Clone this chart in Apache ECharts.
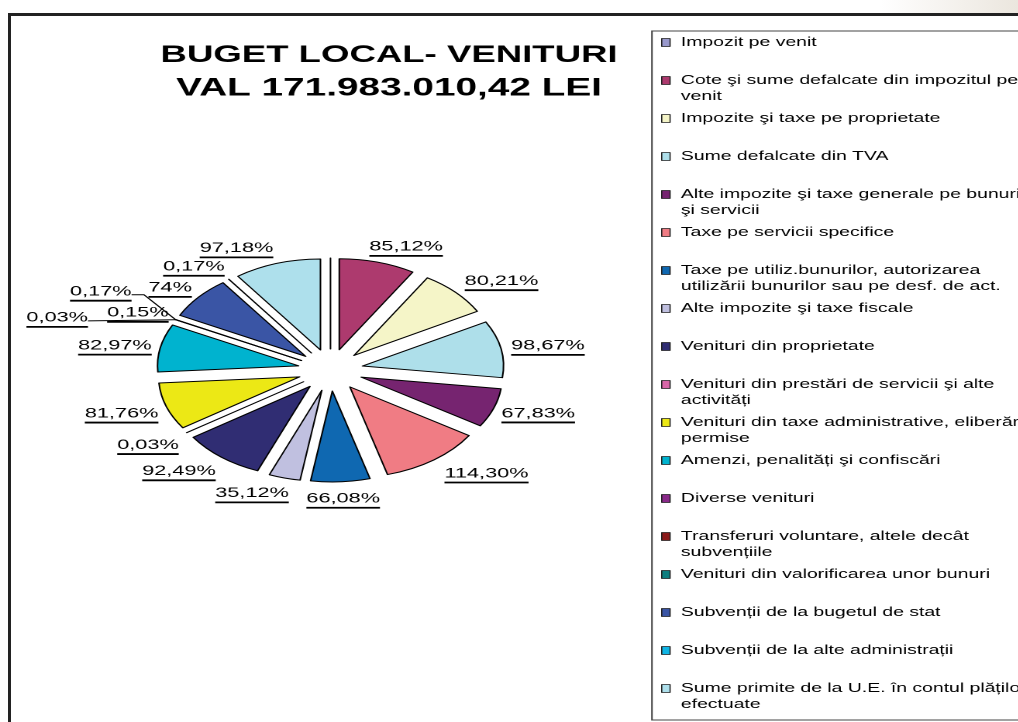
<!DOCTYPE html>
<html>
<head>
<meta charset="utf-8">
<script src="https://cdn.jsdelivr.net/npm/echarts@6/dist/echarts.min.js"></script>
<style>
    html, body { margin: 0; padding: 0; background: #fff; overflow: hidden; }
    #frame { position: absolute; left: 8px; top: 13px; width: 1020px; height: 720px;
             border-left: 3px solid #222; border-top: 3px solid #222; }
    #corner { position: absolute; left: 880px; top: 0; width: 138px; height: 13px;
              background: linear-gradient(to right, #fff, #ebe6de); }
    #main { position: absolute; left: 0; top: 0; width: 656.77px; height: 722px;
            transform: scaleX(1.55); transform-origin: 0 0; }
</style>
</head>
<body>
<div id="corner"></div>
<div id="frame"></div>
<div id="main"></div>
<script>
// categorii de venituri (ordinea din legenda = ordinea feliilor, in sensul acelor de ceasornic)
const categories = [
    'Impozit pe venit',
    'Cote şi sume defalcate din impozitul pe\nvenit',
    'Impozite şi taxe pe proprietate',
    'Sume defalcate din TVA',
    'Alte impozite şi taxe generale pe bunuri\nşi servicii',
    'Taxe pe servicii specifice',
    'Taxe pe utiliz.bunurilor, autorizarea\nutilizării bunurilor sau pe desf. de act.',
    'Alte impozite şi taxe fiscale',
    'Venituri din proprietate',
    'Venituri din prestări de servicii şi alte\nactivități',
    'Venituri din taxe administrative, eliberări\npermise',
    'Amenzi, penalități şi confiscări',
    'Diverse venituri',
    'Transferuri voluntare, altele decât\nsubvențiile',
    'Venituri din valorificarea unor bunuri',
    'Subvenții de la bugetul de stat',
    'Subvenții de la alte administrații',
    'Sume primite de la U.E. în contul plăților\nefectuate'
];

// grad de realizare (%)
const realizat = [0, 85.12, 80.21, 98.67, 67.83, 114.30, 66.08, 35.12, 92.49,
    0.03, 81.76, 82.97, 0.03, 0.15, 0.17, 74, 0.17, 97.18];

const culori = ['#9999CC', '#AD3A6E', '#F5F5C8', '#AEDFEA', '#762470', '#F07C84',
    '#0F68B1', '#C0C0E0', '#302D73', '#D966A8', '#ECE815', '#00B3CF',
    '#8A2A8A', '#8B1A1A', '#0E7F80', '#3A55A5', '#10B5E5', '#AEE0EC'];

// etichete mutate manual in original (index -> deplasare fata de pozitia automata)
const labelDrag = {
    1: [10, 3], 2: [7, 2], 3: [0, 1], 5: [14, 0], 7: [-13, -1], 8: [-8.5, 1],
    9: [-3, 3], 10: [0, 2], 11: [1, 2], 12: [-52, 7], 13: [0, 2], 14: [-24, -19],
    15: [-2, 3], 16: [-6.5, 3], 17: [-16.5, 3]
};
// etichete cu linie de legatura
const leaderLines = { 12: 'straight', 14: 'bent' };

const FONT = '"Liberation Sans", Arial, sans-serif';
const CENTER = [213.2, 370];

function fmt(v) {
    const s = Number.isInteger(v) ? String(v) : v.toFixed(2);
    return s.replace('.', ',') + '%';
}

const pieData = categories.map((name, i) => {
    const item = { name: name, value: realizat[i], selected: true };
    if (realizat[i] === 0) item.label = { show: false };
    if (leaderLines[i]) item.labelLine = { show: true };
    return item;
});

const chart = echarts.init(document.getElementById('main'), null, { devicePixelRatio: 2 });

chart.setOption({
    animation: false,
    color: culori,
    title: {
        text: '{a|BUGET LOCAL- VENITURI}\n{b|VAL 171.983.010,42 LEI}',
        left: 251,
        top: 39,
        padding: 0,
        textAlign: 'center',
        textStyle: {
            fontFamily: FONT,
            fontSize: 25,
            fontWeight: 'bold',
            lineHeight: 33,
            color: '#000',
            rich: {
                a: { fontFamily: FONT, fontSize: 23.6, fontWeight: 'bold', lineHeight: 33, color: '#000' },
                b: { fontFamily: FONT, fontSize: 25, fontWeight: 'bold', lineHeight: 33, color: '#000' }
            }
        }
    },
    graphic: [{
        type: 'rect',
        shape: { x: 420.6, y: 31, width: 400, height: 689 },
        style: { fill: 'none', stroke: '#444', lineWidth: 1 },
        silent: true
    }],
    legend: {
        orient: 'vertical',
        left: 426.5,
        top: 18.5,
        height: 700,
        padding: 0,
        itemGap: -10,
        itemWidth: 5.4,
        itemHeight: 8,
        icon: 'rect',
        selectedMode: false,
        data: categories,
        itemStyle: { borderColor: '#222', borderWidth: 0.8 },
        formatter: function (name) {
            const lines = name.split('\n');
            return ' \n' + lines[0] + '\n' + (lines[1] || ' ');
        },
        textStyle: {
            fontFamily: FONT,
            fontSize: 12.5,
            lineHeight: 16,
            padding: [0, 0, 0, 2],
            color: '#000'
        }
    },
    series: [{
        type: 'pie',
        center: CENTER,
        radius: 91,
        startAngle: 90,
        clockwise: true,
        selectedMode: 'multiple',
        selectedOffset: 21,
        emphasis: { disabled: true },
        select: { itemStyle: { borderColor: '#000', borderWidth: 1 } },
        itemStyle: { borderColor: '#000', borderWidth: 1 },
        avoidLabelOverlap: false,
        label: {
            show: true,
            position: 'outside',
            distanceToLabelLine: 0,
            formatter: function (p) {
                return '{v|' + fmt(p.value) + '}\n{u|}';
            },
            rich: {
                v: { fontFamily: FONT, fontSize: 14, lineHeight: 16, color: '#000' },
                u: { width: '100%', height: 1.8, lineHeight: 2, backgroundColor: '#000' }
            }
        },
        labelLine: {
            show: false,
            length: 7,
            length2: 0,
            lineStyle: { color: '#000', width: 1 }
        },
        // eticheta in afara feliei, cu marginea cea mai apropiata langa felie (ca in Excel)
        labelLayout: function (p) {
            const r = p.labelRect;
            const ax = p.align === 'left' ? r.x : (p.align === 'right' ? r.x + r.width : r.x + r.width / 2);
            const ay = r.y + r.height / 2;
            let ux = ax - CENTER[0];
            let uy = ay - CENTER[1];
            const len = Math.hypot(ux, uy) || 1;
            ux /= len; uy /= len;
            const sgn = p.align === 'left' ? 1 : (p.align === 'right' ? -1 : 0);
            let dx = (ux - sgn) * r.width / 2;
            let dy = uy * r.height / 2;
            const drag = labelDrag[p.dataIndex];
            if (drag) {
                dx += drag[0];
                dy += drag[1];
            }
            const res = { dx: dx, dy: dy };
            const kind = leaderLines[p.dataIndex];
            if (kind) {
                const right = r.x + r.width + dx;
                const yy = ay + dy - 1;
                const p0 = p.labelLinePoints ? p.labelLinePoints[0] : [ax, ay];
                res.labelLinePoints = kind === 'bent'
                    ? [p0, [right + 8, yy], [right, yy]]
                    : [p0, [right, yy]];
            }
            return res;
        },
        data: pieData
    }]
});
</script>
</body>
</html>
